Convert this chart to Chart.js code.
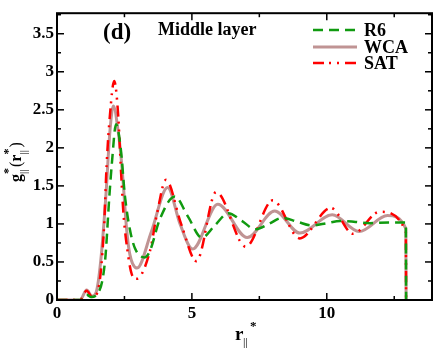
<!DOCTYPE html>
<html>
<head>
<meta charset="utf-8">
<script src="https://cdn.jsdelivr.net/npm/chart.js@4.4.1/dist/chart.umd.min.js"></script>
<style>
  html, body { margin: 0; padding: 0; background: #fff; }
  #wrap { width: 436px; height: 348px; }
</style>
</head>
<body>
<div id="wrap"><canvas id="gChart" width="436" height="348"></canvas></div>
<script>
// 數據
const seriesNames = ["R6", "WCA", "SAT"];

const rR6 = [0, 0.9, 1.1, 1.25, 1.5, 1.78, 1.94, 2.03, 2.19, 2.36, 2.52, 2.7, 2.89, 3.25, 3.44, 3.81, 4.37, 4.85, 5.37, 5.85, 6.35, 6.85, 7.35, 7.85, 8.35, 8.9, 9.45, 10.0, 10.5, 11.0, 11.6, 12.3, 12.93, 12.94];
const gR6 = [0, 0, 0.07, 0.04, 0.08, 0.51, 1.36, 1.78, 2.31, 2.0, 1.36, 0.93, 0.68, 0.56, 0.64, 1.06, 1.36, 1.1, 0.82, 0.98, 1.14, 1.04, 0.93, 1.0, 1.08, 1.03, 0.98, 1.01, 1.04, 1.03, 1.01, 1.02, 1.02, 0];

const rWCA = [0, 0.85, 1.1, 1.3, 1.45, 1.62, 1.81, 1.96, 2.09, 2.27, 2.4, 2.49, 2.58, 2.7, 2.97, 3.5, 4.1, 4.56, 5.03, 5.96, 7.05, 8.07, 9.0, 10.2, 11.2, 12.25, 12.93, 12.94];
const gWCA = [0, 0, 0.13, 0.05, 0.1, 0.51, 1.36, 2.21, 2.55, 2.21, 1.78, 1.36, 0.93, 0.6, 0.42, 0.9, 1.48, 1.0, 0.67, 1.26, 0.82, 1.17, 0.88, 1.12, 0.9, 1.11, 0.94, 0];

const rSAT = [0, 0.85, 1.1, 1.3, 1.5, 1.74, 1.84, 1.96, 2.12, 2.27, 2.36, 2.46, 2.6, 2.77, 2.95, 3.45, 3.7, 4.04, 4.6, 5.17, 5.9, 7.0, 8.0, 9.0, 10.15, 10.97, 11.96, 12.93, 12.94];
const gSAT = [0, 0, 0.12, 0.04, 0.1, 0.93, 1.78, 2.42, 2.88, 2.42, 1.78, 1.15, 0.68, 0.34, 0.28, 0.65, 1.12, 1.58, 1.0, 0.51, 1.42, 0.70, 1.31, 0.81, 1.21, 0.87, 1.16, 0.90, 0];

const xTicks = [0, 5, 10];
const xMinor = [2.5, 7.5, 12.5];
const yTicks = [0, 0.5, 1, 1.5, 2, 2.5, 3, 3.5];
const yMinor = [0.25, 0.75, 1.25, 1.75, 2.25, 2.75, 3.25, 3.75];

const SERIF = "'Liberation Serif', 'Times New Roman', serif";

function toPoints(xs, ys) {
    return xs.map((x, i) => ({ x: x, y: ys[i] }));
}

// 畫框線、刻度、標題、圖例
const decorPlugin = {
    id: "decor",
    afterDraw(chart) {
        const ctx = chart.ctx;
        const a = chart.chartArea;
        const xs = chart.scales.x, ys = chart.scales.y;
        ctx.save();
        ctx.strokeStyle = "#000";
        ctx.lineWidth = 2;
        ctx.strokeRect(a.left, a.top, a.right - a.left, a.bottom - a.top);

        ctx.lineWidth = 1.5;
        const tick = (x1, y1, x2, y2) => { ctx.beginPath(); ctx.moveTo(x1, y1); ctx.lineTo(x2, y2); ctx.stroke(); };
        xTicks.forEach(v => { const p = xs.getPixelForValue(v); tick(p, a.bottom, p, a.bottom - 7); tick(p, a.top, p, a.top + 7); });
        xMinor.forEach(v => { const p = xs.getPixelForValue(v); tick(p, a.bottom, p, a.bottom - 4); tick(p, a.top, p, a.top + 4); });
        yTicks.forEach(v => { const p = ys.getPixelForValue(v); tick(a.left, p, a.left + 7, p); tick(a.right, p, a.right - 7, p); });
        yMinor.forEach(v => { const p = ys.getPixelForValue(v); tick(a.left, p, a.left + 4, p); tick(a.right, p, a.right - 4, p); });

        ctx.fillStyle = "#000";
        ctx.textBaseline = "alphabetic";
        ctx.textAlign = "left";

        // (d) Middle layer
        ctx.font = "bold 23px " + SERIF;
        ctx.fillText("(d)", 103, 39);
        ctx.font = "bold 18px " + SERIF;
        ctx.fillText("Middle layer", 158, 35);

        // x 軸標題
        ctx.font = "bold 19px " + SERIF;
        ctx.fillText("r", 235, 340);
        ctx.font = "12px " + SERIF;
        ctx.fillText("||", 243, 347);
        ctx.font = "bold 13px " + SERIF;
        ctx.fillText("*", 250, 330);

        // y 軸標題 (旋轉)
        ctx.save();
        ctx.translate(21, 182);
        ctx.rotate(-Math.PI / 2);
        let cx = 0;
        const seg = (t, font, dy) => { ctx.font = font; ctx.fillText(t, cx, dy); cx += ctx.measureText(t).width; };
        seg("g", "bold 16px " + SERIF, 0);
        const gx = cx;
        seg("||", "11px " + SERIF, 6);
        cx = gx;
        seg("*", "bold 12px " + SERIF, -9);
        cx += 1;
        seg("(", "16px " + SERIF, 0);
        seg("r", "bold 16px " + SERIF, 0);
        const rx = cx;
        seg("||", "11px " + SERIF, 6);
        cx = rx;
        seg("*", "bold 12px " + SERIF, -9);
        cx += 1;
        seg(")", "16px " + SERIF, 0);
        ctx.restore();

        // 圖例
        const legY = [30, 47, 63];
        chart.data.datasets.forEach((ds, i) => {
            ctx.save();
            ctx.strokeStyle = ds.borderColor;
            ctx.lineWidth = ds.borderWidth;
            ctx.setLineDash(ds.borderDash || []);
            ctx.beginPath();
            ctx.moveTo(313, legY[i]);
            ctx.lineTo(357, legY[i]);
            ctx.stroke();
            ctx.restore();
            ctx.font = "bold 18px " + SERIF;
            ctx.textBaseline = "middle";
            ctx.fillText(ds.label, 364, legY[i] + 1);
        });
        ctx.restore();
    }
};

const ctx = document.getElementById("gChart").getContext("2d");
new Chart(ctx, {
    type: "line",
    data: {
        datasets: [
            {
                label: seriesNames[0],
                data: toPoints(rR6, gR6),
                borderColor: "#109a10",
                borderWidth: 2.5,
                borderDash: [10, 6],
                order: 1,
            },
            {
                label: seriesNames[1],
                data: toPoints(rWCA, gWCA),
                borderColor: "#c09494",
                borderWidth: 3,
                order: 3,
            },
            {
                label: seriesNames[2],
                data: toPoints(rSAT, gSAT),
                borderColor: "#ff0000",
                borderWidth: 2.5,
                borderDash: [11, 5, 2, 6, 2, 6],
                order: 2,
            },
        ],
    },
    options: {
        responsive: false,
        animation: false,
        layout: { padding: { top: 4, right: 4, left: 0, bottom: 0 } },
        elements: {
            point: { radius: 0 },
            line: { cubicInterpolationMode: "monotone", fill: false },
        },
        plugins: {
            legend: { display: false },
            tooltip: { enabled: false },
        },
        scales: {
            x: {
                type: "linear",
                min: 0,
                max: 13.9,
                afterBuildTicks: s => { s.ticks = xTicks.map(v => ({ value: v })); },
                afterFit: s => { s.height = 48; },
                grid: { display: false, drawTicks: false },
                border: { display: false },
                ticks: {
                    color: "#000",
                    padding: 3,
                    maxRotation: 0,
                    callback: v => String(v),
                    font: { family: SERIF, size: 17, weight: "bold" },
                },
            },
            y: {
                min: 0,
                max: 3.77,
                afterBuildTicks: s => { s.ticks = yTicks.map(v => ({ value: v })); },
                afterFit: s => { s.width = 57; },
                grid: { display: false, drawTicks: false },
                border: { display: false },
                ticks: {
                    color: "#000",
                    padding: 3,
                    callback: v => String(v),
                    font: { family: SERIF, size: 17, weight: "bold" },
                },
            },
        },
    },
    plugins: [decorPlugin],
});
</script>
</body>
</html>
